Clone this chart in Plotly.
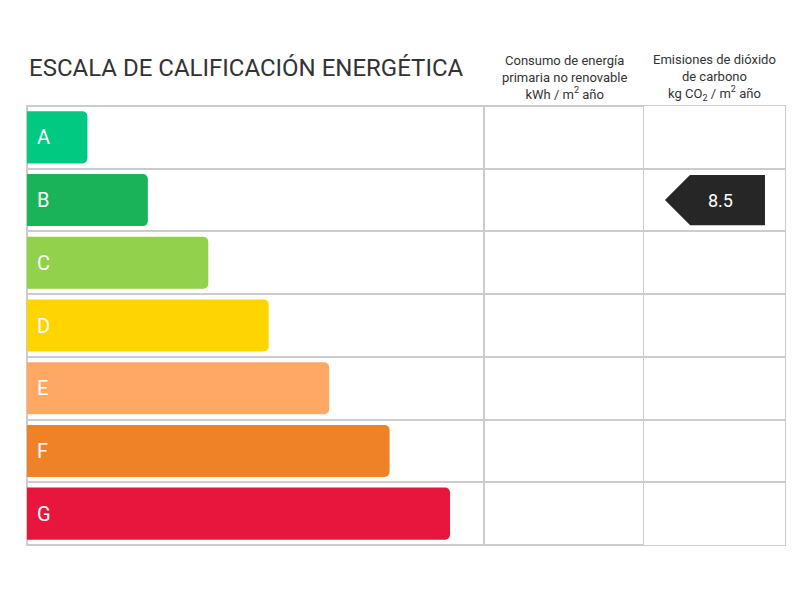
import plotly.graph_objects as go

# Energy rating classes and their scale bars
categories = ["A", "B", "C", "D", "E", "F", "G"]
bar_lengths = [1, 2, 3, 4, 5, 6, 7]
bar_colors = ["#00C981", "#1BB35A", "#92D14B", "#FFD500", "#FFA764", "#EF8227", "#E8163C"]

# Column headers
col_headers = [
    "Consumo de energía<br>primaria no renovable<br>kWh / m<sup>2</sup> año",
    "Emisiones de dióxido<br>de carbono<br>kg CO<sub>2</sub> / m<sup>2</sup> año",
]

# CO2 emissions rating
co2_rating = "B"
co2_value = 8.5

FONT = "Roboto"
GRID = "#CCCCCC"
DARK = "#262626"

# column split (paper coords)
COL1 = 0.6029
COL2 = 0.814

fig = go.Figure()

fig.add_trace(go.Bar(
    y=categories,
    x=bar_lengths,
    orientation="h",
    marker=dict(color=bar_colors, cornerradius=5, line=dict(width=0)),
    hoverinfo="skip",
    showlegend=False,
))

# letters inside bars
for cat in categories:
    fig.add_annotation(
        x=0, y=cat, xref="x", yref="y",
        text=cat, showarrow=False,
        xanchor="left", xshift=8,
        font=dict(family=FONT, size=20, color="white"),
    )

# CO2 arrow label: body bar + diamond tip
arrow_start = 0.326
arrow_end = 0.858
fig.add_trace(go.Bar(
    y=[co2_rating],
    x=[arrow_end - arrow_start],
    base=[arrow_start],
    orientation="h",
    xaxis="x2", yaxis="y",
    marker=dict(color=DARK, line=dict(width=0)),
    width=0.8,
    hoverinfo="skip",
    showlegend=False,
))
fig.add_trace(go.Scatter(
    y=[co2_rating],
    x=[arrow_start],
    xaxis="x2", yaxis="y",
    mode="markers",
    marker=dict(symbol="diamond", size=38.5, color=DARK, line=dict(width=0)),
    hoverinfo="skip",
    showlegend=False,
))
fig.add_annotation(
    x=0.546, y=co2_rating, xref="x2", yref="y",
    text=str(co2_value), showarrow=False,
    font=dict(family=FONT, size=18, color="white"),
)

# title and column headers
fig.add_annotation(
    x=0, y=1.0866, xref="paper", yref="paper",
    text="ESCALA DE CALIFICACIÓN ENERGÉTICA", showarrow=False,
    xanchor="left", yanchor="middle",
    font=dict(family=FONT, size=24, color="#333333"),
)
for cx, txt in zip([(COL1 + COL2) / 2, (COL2 + 1) / 2], col_headers):
    fig.add_annotation(
        x=cx, y=1.066, xref="paper", yref="paper",
        text=txt, showarrow=False,
        xanchor="center", yanchor="middle",
        font=dict(family=FONT, size=13, color="#333333"),
    )

# table frame
fig.add_shape(type="rect", xref="paper", yref="paper", x0=0, x1=1, y0=0, y1=1,
              line=dict(color=GRID, width=2), layer="below")
for cx in [COL1, COL2]:
    fig.add_shape(type="line", xref="paper", yref="paper", x0=cx, x1=cx, y0=0, y1=1,
                  line=dict(color=GRID, width=2), layer="below")

fig.update_layout(
    width=800, height=600,
    margin=dict(l=19, r=23, t=98, b=63),
    paper_bgcolor="white", plot_bgcolor="white",
    bargap=0.17,
    barmode="overlay",
    xaxis=dict(domain=[0, 1], range=[0, 758 / 60.43], visible=False),
    xaxis2=dict(domain=[COL2, 1], range=[0, 1], visible=False, anchor="y"),
    yaxis=dict(
        categoryorder="array", categoryarray=categories,
        range=[6.5, -0.5],
        showticklabels=False, ticks="",
        showgrid=True, gridcolor=GRID, gridwidth=2,
        tickson="boundaries", zeroline=False,
    ),
)

fig.write_html("out.html")
